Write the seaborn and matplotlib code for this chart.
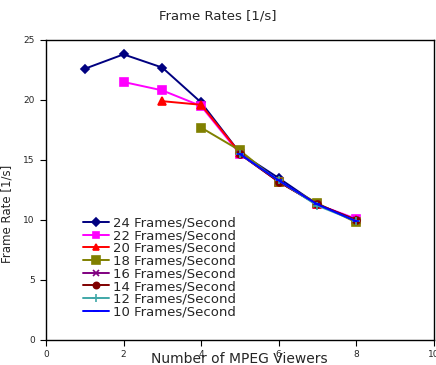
import matplotlib
matplotlib.use("Agg")
import matplotlib.pyplot as plt
import seaborn as sns
import pandas as pd

series = ["24 Frames/Second", "22 Frames/Second", "20 Frames/Second", "18 Frames/Second",
          "16 Frames/Second", "14 Frames/Second", "12 Frames/Second", "10 Frames/Second"]
x24 = [1, 2, 3, 4, 5, 6, 7, 8]
y24 = [22.6, 23.8, 22.7, 19.8, 15.6, 13.5, 11.3, 10.0]
x22 = [2, 3, 4, 5, 6, 7, 8]
y22 = [21.5, 20.8, 19.5, 15.5, 13.2, 11.3, 10.1]
x20 = [3, 4, 5, 6, 7, 8]
y20 = [19.9, 19.6, 15.6, 13.2, 11.3, 10.0]
x18 = [4, 5, 6, 7, 8]
y18 = [17.7, 15.8, 13.2, 11.4, 9.8]
x16 = [5, 6, 7, 8]
y16 = [15.5, 13.2, 11.3, 10.0]
x14 = [5, 6, 7, 8]
y14 = [15.5, 13.2, 11.3, 10.0]
x12 = [5, 6, 7, 8]
y12 = [15.5, 13.3, 11.2, 9.9]
x10 = [5, 6, 7, 8]
y10 = [15.5, 13.3, 11.3, 9.9]

xs = [x24, x22, x20, x18, x16, x14, x12, x10]
ys = [y24, y22, y20, y18, y16, y14, y12, y10]
rows = []
for name, xv, yv in zip(series, xs, ys):
    for a, b in zip(xv, yv):
        rows.append({"series": name, "viewers": a, "rate": b})
df = pd.DataFrame(rows)

colors = ["#000080", "#ff00ff", "#ff0000", "#808000", "#800080", "#800000", "#40a8a8", "#0000ff"]
markers = ["D", "s", "^", "s", "x", "o", "+", "_"]
sizes = [4, 5.5, 5.5, 6, 5, 5, 6, 5]

sns.set_style("white")
plt.rcParams["font.family"] = ["DejaVu Sans"]

fig = plt.figure(figsize=(4.36, 3.65), dpi=100)
ax = fig.add_axes([0.1055, 0.0685, 0.889, 0.822])

for i, name in enumerate(series):
    sub = df[df["series"] == name]
    sns.lineplot(data=sub, x="viewers", y="rate", ax=ax, color=colors[i],
                 marker=markers[i], markersize=sizes[i], markeredgecolor=colors[i],
                 markeredgewidth=1.2, linewidth=1.4, label=name, sort=False)

ax.set_xlim(0, 10)
ax.set_ylim(0, 25)
ax.set_xticks([0, 2, 4, 6, 8, 10])
ax.set_yticks([0, 5, 10, 15, 20, 25])
ax.tick_params(axis="both", direction="out", length=4, width=0.8, labelsize=6.5,
               bottom=True, left=True, color="black")
ax.tick_params(axis="y", pad=4)
ax.tick_params(axis="x", pad=3)
for s in ax.spines.values():
    s.set_color("black")
    s.set_linewidth(1.0)
ax.set_xlabel("Number of MPEG Viewers", fontsize=10, labelpad=-5)
ax.set_ylabel("Frame Rate [1/s]", fontsize=8.5, labelpad=1)
ax.yaxis.set_label_coords(-0.085, 0.42)
fig.suptitle("Frame Rates [1/s]", fontsize=9.5, y=0.975)

ax.legend(loc="lower left", bbox_to_anchor=(0.075, 0.045), frameon=False, fontsize=9.5,
          handlelength=2.0, labelspacing=-0.02, borderpad=0.1, handletextpad=0.3,
          markerscale=0.9)

fig.savefig("out.png", dpi=100)
